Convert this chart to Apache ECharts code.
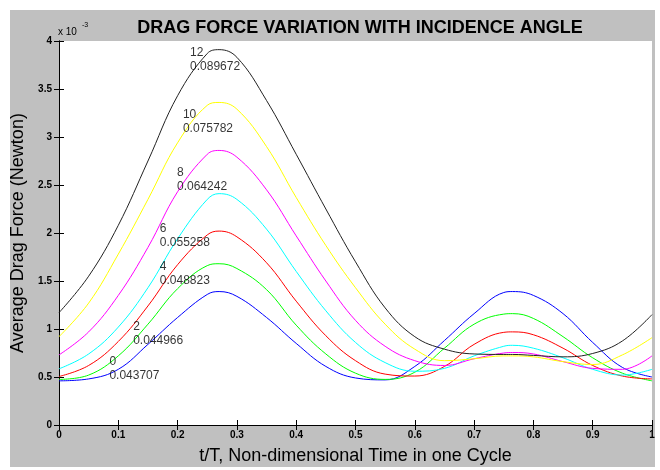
<!DOCTYPE html>
<html><head><meta charset="utf-8">
<script src="https://cdn.jsdelivr.net/npm/echarts@6/dist/echarts.min.js"></script>
<style>html,body{margin:0;padding:0;background:#fff}#c{width:660px;height:470px}</style>
</head><body><div id="c"></div><script>
// t/T values (non-dimensional time)
const tValues = [0,0.05,0.1,0.15,0.2,0.25,0.27,0.3,0.35,0.4,0.45,0.5,0.55,0.6,0.65,0.7,0.75,0.765,0.8,0.85,0.9,0.95,1];
// average drag force (x 10^-3 N) for each incidence angle
const drag0  = [0.46,0.48,0.58,0.84,1.12,1.36,1.39,1.34,1.12,0.85,0.61,0.49,0.47,0.61,0.88,1.16,1.38,1.39,1.35,1.16,0.86,0.60,0.50];
const drag2  = [0.475,0.52,0.72,1.05,1.42,1.66,1.68,1.63,1.41,1.04,0.74,0.54,0.475,0.55,0.80,1.05,1.155,1.16,1.11,0.92,0.70,0.54,0.46];
const drag4  = [0.505,0.62,0.87,1.24,1.67,1.98,2.02,1.96,1.69,1.29,0.93,0.67,0.53,0.51,0.61,0.84,0.965,0.97,0.94,0.80,0.62,0.51,0.48];
const drag6  = [0.585,0.74,1.02,1.43,1.94,2.35,2.41,2.35,2.04,1.60,1.19,0.86,0.65,0.56,0.59,0.72,0.82,0.83,0.80,0.70,0.58,0.52,0.58];
const drag8  = [0.73,0.97,1.35,1.85,2.43,2.82,2.86,2.79,2.45,1.97,1.50,1.09,0.82,0.67,0.62,0.69,0.75,0.755,0.74,0.66,0.59,0.58,0.72];
const drag10 = [0.92,1.27,1.78,2.35,2.94,3.33,3.36,3.29,2.90,2.37,1.87,1.43,1.05,0.79,0.67,0.69,0.72,0.72,0.71,0.66,0.63,0.73,0.91];
const drag12 = [1.17,1.55,2.08,2.75,3.43,3.87,3.91,3.83,3.38,2.82,2.25,1.70,1.22,0.92,0.79,0.74,0.735,0.735,0.725,0.71,0.745,0.875,1.15];
const angles = ['0','2','4','6','8','10','12'];
const dragCoefs = ['0.043707','0.044966','0.048823','0.055258','0.064242','0.075782','0.089672'];
// annotation anchors (data coordinates)
const labelT = [0.085,0.125,0.170,0.170,0.199,0.209,0.221];
const labelV = [0.585,0.949,1.574,1.974,2.554,3.159,3.805];
const xTicks = {min:0,max:1,interval:0.1};
const yTicks = {min:0,max:4,interval:0.5};

const allSeries = [drag0,drag2,drag4,drag6,drag8,drag10,drag12];
const colors = ['#0000ff','#00ff00','#ff0000','#00ffff','#ff00ff','#ffff00','#222222'];
const FONT = "'Liberation Sans', Arial, Helvetica, sans-serif";

const chart = echarts.init(document.getElementById('c'));
const axisCommon = {
  axisLine:{show:true,lineStyle:{color:'#000',width:1}},
  axisTick:{show:true,inside:true,length:5,lineStyle:{color:'#000'}},
  splitLine:{show:false}
};
const series = allSeries.map((arr,i)=>({
  type:'line', name:angles[i], data:tValues.map((t,k)=>[t,arr[k]]),
  showSymbol:false, smooth:0.4, lineStyle:{color:colors[i],width:1}, z:2+i, silent:true
}));
series.push({
  type:'scatter', symbolSize:0, silent:true, z:20,
  data: labelT.map((t,i)=>[t,labelV[i]]),
  label:{show:true, position:[0,0], align:'left', verticalAlign:'middle',
    fontSize:12, lineHeight:14, color:'#000', fontFamily:FONT,
    formatter:p=>angles[p.dataIndex]+'\n'+dragCoefs[p.dataIndex]}
});
chart.setOption({
  animation:false,
  backgroundColor:'#fff',
  graphic:[
    {type:'rect', shape:{x:10,y:10,width:645,height:457}, style:{fill:'#c0c0c0'}, z:-10, silent:true},
    {type:'text', left:58, top:27, style:{text:'x 10', fontSize:10, fontFamily:FONT, fill:'#000'}, z:10},
    {type:'text', left:82, top:22, style:{text:'-3', fontSize:7, fontFamily:FONT, fill:'#000'}, z:10}
  ],
  title:{text:'DRAG FORCE VARIATION WITH INCIDENCE ANGLE', left:355, top:14, textAlign:'center',
    textStyle:{fontSize:18, fontWeight:'bold', fontFamily:FONT, color:'#000'}},
  grid:{left:59, top:41, right:8, bottom:39, show:true, backgroundColor:'#fff', borderWidth:0},
  xAxis:[
    Object.assign({type:'value', position:'bottom', min:xTicks.min, max:xTicks.max, interval:xTicks.interval,
      name:'t/T, Non-dimensional Time in one Cycle', nameLocation:'middle', nameGap:22,
      nameTextStyle:{fontSize:18, fontFamily:FONT, color:'#000'},
      axisLabel:{fontSize:10, fontWeight:'bold', color:'#000', margin:5, fontFamily:FONT}}, axisCommon),
    Object.assign({type:'value', position:'top', min:xTicks.min, max:xTicks.max, interval:xTicks.interval,
      axisLabel:{show:false}}, axisCommon)
  ],
  yAxis:[
    Object.assign({type:'value', position:'left', min:yTicks.min, max:yTicks.max, interval:yTicks.interval,
      name:'Average Drag Force (Newton)', nameLocation:'middle', nameGap:19, nameRotate:90,
      nameTextStyle:{fontSize:18, fontFamily:FONT, color:'#000'},
      axisLabel:{fontSize:10, fontWeight:'bold', color:'#000', margin:7, fontFamily:FONT}}, axisCommon),
    Object.assign({type:'value', position:'right', min:yTicks.min, max:yTicks.max, interval:yTicks.interval,
      axisLabel:{show:false}}, axisCommon)
  ],
  series:series
});
</script></body></html>
